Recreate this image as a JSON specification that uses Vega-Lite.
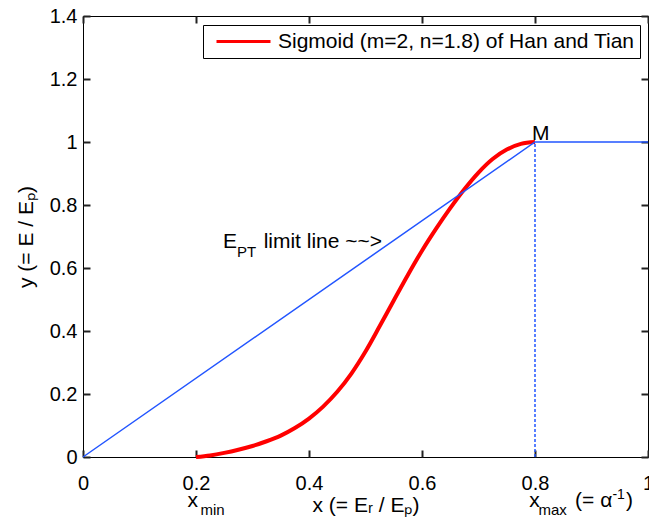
{
  "$schema": "https://vega.github.io/schema/vega-lite/v6.json",
  "width": 565,
  "height": 441,
  "autosize": {"type": "none"},
  "padding": {"left": 83, "top": 16, "right": 1, "bottom": 63},
  "background": "white",
  "config": {
    "font": "Liberation Sans",
    "view": {"stroke": "black", "strokeWidth": 1},
    "axis": {
      "grid": false,
      "domain": false,
      "labelColor": "black",
      "titleColor": "black",
      "labelFont": "Liberation Sans",
      "titleFont": "Liberation Sans",
      "labelFontSize": 20,
      "titleFontSize": 21,
      "titleFontWeight": "normal",
      "labelFlush": false,
      "labelOverlap": false,
      "ticks": true,
      "tickColor": "#222222",
      "tickWidth": 2,
      "tickSize": 7
    }
  },
  "datasets": {
    "sig": [
      {"x": 0.2, "y": 0, "series": "Sigmoid (m=2, n=1.8) of Han and Tian"},
      {"x": 0.225, "y": 0.005, "series": "Sigmoid (m=2, n=1.8) of Han and Tian"},
      {"x": 0.25, "y": 0.013, "series": "Sigmoid (m=2, n=1.8) of Han and Tian"},
      {"x": 0.275, "y": 0.023, "series": "Sigmoid (m=2, n=1.8) of Han and Tian"},
      {"x": 0.3, "y": 0.035, "series": "Sigmoid (m=2, n=1.8) of Han and Tian"},
      {"x": 0.325, "y": 0.05, "series": "Sigmoid (m=2, n=1.8) of Han and Tian"},
      {"x": 0.35, "y": 0.068, "series": "Sigmoid (m=2, n=1.8) of Han and Tian"},
      {"x": 0.375, "y": 0.092, "series": "Sigmoid (m=2, n=1.8) of Han and Tian"},
      {"x": 0.4, "y": 0.122, "series": "Sigmoid (m=2, n=1.8) of Han and Tian"},
      {"x": 0.425, "y": 0.16, "series": "Sigmoid (m=2, n=1.8) of Han and Tian"},
      {"x": 0.45, "y": 0.207, "series": "Sigmoid (m=2, n=1.8) of Han and Tian"},
      {"x": 0.475, "y": 0.265, "series": "Sigmoid (m=2, n=1.8) of Han and Tian"},
      {"x": 0.5, "y": 0.335, "series": "Sigmoid (m=2, n=1.8) of Han and Tian"},
      {"x": 0.525, "y": 0.415, "series": "Sigmoid (m=2, n=1.8) of Han and Tian"},
      {"x": 0.55, "y": 0.497, "series": "Sigmoid (m=2, n=1.8) of Han and Tian"},
      {"x": 0.575, "y": 0.578, "series": "Sigmoid (m=2, n=1.8) of Han and Tian"},
      {"x": 0.6, "y": 0.655, "series": "Sigmoid (m=2, n=1.8) of Han and Tian"},
      {"x": 0.625, "y": 0.725, "series": "Sigmoid (m=2, n=1.8) of Han and Tian"},
      {"x": 0.65, "y": 0.79, "series": "Sigmoid (m=2, n=1.8) of Han and Tian"},
      {"x": 0.675, "y": 0.85, "series": "Sigmoid (m=2, n=1.8) of Han and Tian"},
      {"x": 0.7, "y": 0.903, "series": "Sigmoid (m=2, n=1.8) of Han and Tian"},
      {"x": 0.725, "y": 0.946, "series": "Sigmoid (m=2, n=1.8) of Han and Tian"},
      {"x": 0.75, "y": 0.976, "series": "Sigmoid (m=2, n=1.8) of Han and Tian"},
      {"x": 0.775, "y": 0.994, "series": "Sigmoid (m=2, n=1.8) of Han and Tian"},
      {"x": 0.8, "y": 1.0, "series": "Sigmoid (m=2, n=1.8) of Han and Tian"}
    ],
    "limit": [
      {"x": 0, "y": 0},
      {"x": 0.8, "y": 1},
      {"x": 1, "y": 1}
    ],
    "vline": [
      {"x": 0.8, "y": 0},
      {"x": 0.8, "y": 1}
    ],
    "mainText": [
      {"x": 0.248, "y": 0.665, "text": "E"},
      {"x": 0.3197, "y": 0.665, "text": "limit line ~~>"},
      {"x": 0.7945, "y": 1.006, "text": "M"},
      {"x": 0.185, "y": -0.159, "text": "x"},
      {"x": 0.79, "y": -0.159, "text": "x"},
      {"x": 0.871, "y": -0.159, "text": "(= α"},
      {"x": 0.961, "y": -0.159, "text": ")"}
    ],
    "subText": [
      {"x": 0.2725, "y": 0.636, "text": "PT"},
      {"x": 0.208, "y": -0.185, "text": "min"},
      {"x": 0.806, "y": -0.185, "text": "max"}
    ],
    "supText": [
      {"x": 0.937, "y": -0.134, "text": "-1"}
    ]
  },
  "resolve": {"axis": {"x": "independent", "y": "independent"}},
  "layer": [
    {
      "data": {"name": "sig"},
      "mark": {"type": "line", "strokeWidth": 4, "interpolate": "monotone"},
      "encoding": {
        "x": {"field": "x", "type": "quantitative", "scale": {"domain": [0, 1], "nice": false}, "axis": {"orient": "bottom", "values": [0, 0.2, 0.4, 0.6, 0.8, 1], "format": "~g", "title": "x (= Eᵣ / Eₚ)", "offset": -7, "labelPadding": 16, "titlePadding": 1}},
        "y": {"field": "y", "type": "quantitative", "scale": {"domain": [0, 1.4], "nice": false}, "axis": {"orient": "left", "values": [0, 0.2, 0.4, 0.6, 0.8, 1, 1.2, 1.4], "format": "~g", "title": "y (= E / Eₚ)", "offset": -7, "labelPadding": 6, "titlePadding": 13}},
        "color": {"field": "series", "type": "nominal", "scale": {"domain": ["Sigmoid (m=2, n=1.8) of Han and Tian"], "range": ["#ff0000"]},
          "legend": {"title": null, "orient": "none", "legendX": 120, "legendY": 9, "strokeColor": "black", "fillColor": "white", "padding": 5, "symbolType": "stroke", "symbolSize": 2916, "symbolStrokeWidth": 3, "symbolOffset": 7, "labelOffset": 6, "clipHeight": 23, "labelFontSize": 21, "labelFont": "Liberation Sans", "labelColor": "black", "labelLimit": 500}}
      }
    },
    {
      "data": {"name": "limit"},
      "mark": {"type": "line", "color": "#2255ff", "strokeWidth": 1.5},
      "encoding": {
        "x": {"field": "x", "type": "quantitative", "axis": {"orient": "top", "values": [0, 0.2, 0.4, 0.6, 0.8, 1], "labels": false, "title": null, "offset": -7}},
        "y": {"field": "y", "type": "quantitative", "axis": {"orient": "right", "values": [0, 0.2, 0.4, 0.6, 0.8, 1, 1.2, 1.4], "labels": false, "title": null, "offset": -7}}
      }
    },
    {
      "data": {"name": "vline"},
      "mark": {"type": "line", "color": "#2255ff", "strokeWidth": 1.5, "strokeDash": [3, 2]},
      "encoding": {
        "x": {"field": "x", "type": "quantitative", "axis": null},
        "y": {"field": "y", "type": "quantitative", "axis": null}
      }
    },
    {
      "data": {"name": "mainText"},
      "mark": {"type": "text", "align": "left", "baseline": "alphabetic", "fontSize": 21, "font": "Liberation Sans", "color": "black"},
      "encoding": {
        "x": {"field": "x", "type": "quantitative", "axis": null},
        "y": {"field": "y", "type": "quantitative", "axis": null},
        "text": {"field": "text"}
      }
    },
    {
      "data": {"name": "subText"},
      "mark": {"type": "text", "align": "left", "baseline": "alphabetic", "fontSize": 15, "font": "Liberation Sans", "color": "black"},
      "encoding": {
        "x": {"field": "x", "type": "quantitative", "axis": null},
        "y": {"field": "y", "type": "quantitative", "axis": null},
        "text": {"field": "text"}
      }
    },
    {
      "data": {"name": "supText"},
      "mark": {"type": "text", "align": "left", "baseline": "alphabetic", "fontSize": 14, "font": "Liberation Sans", "color": "black"},
      "encoding": {
        "x": {"field": "x", "type": "quantitative", "axis": null},
        "y": {"field": "y", "type": "quantitative", "axis": null},
        "text": {"field": "text"}
      }
    }
  ]
}
